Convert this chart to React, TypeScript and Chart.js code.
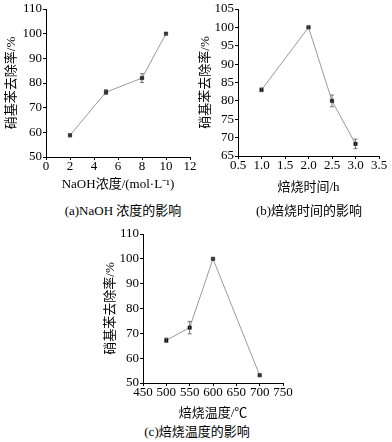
import React, { useEffect, useRef } from "react";
import { Chart, registerables } from "chart.js";

Chart.register(...registerables);

const FONT = "'Liberation Serif', 'Times New Roman', 'Noto Sans CJK SC', serif";

const yAxisTitle = "硝基苯去除率/%";

// (a) NaOH concentration
const naohX = [2, 5, 8, 10];
const naohY = [58.8, 76.3, 82.0, 100];
const naohErr = [0.6, 1.0, 1.8, 0.3];
const naohTitle = "NaOH浓度/(mol·L⁻¹)";
const naohCaption = "(a)NaOH 浓度的影响";

// (b) roasting time
const timeX = [1.0, 2.0, 2.5, 3.0];
const timeY = [83.0, 100, 80.0, 68.3];
const timeErr = [0.5, 0.3, 1.6, 1.3];
const timeTitle = "焙烧时间/h";
const timeCaption = "(b)焙烧时间的影响";

// (c) roasting temperature
const tempX = [500, 550, 600, 700];
const tempY = [67.2, 72.3, 100, 53.1];
const tempErr = [0.9, 2.5, 0.4, 0.5];
const tempTitle = "焙烧温度/℃";
const tempCaption = "(c)焙烧温度的影响";

const errorBarPlugin = {
  id: "errorBars",
  afterDatasetsDraw(chart: any) {
    const ctx = chart.ctx;
    const xs = chart.scales.x;
    const ys = chart.scales.y;
    chart.data.datasets.forEach((ds: any) => {
      const errs: number[] = ds.errors || [];
      ds.data.forEach((p: any, i: number) => {
        const e = errs[i];
        if (!e) return;
        const x = xs.getPixelForValue(p.x);
        const y1 = ys.getPixelForValue(p.y + e);
        const y2 = ys.getPixelForValue(p.y - e);
        ctx.save();
        ctx.strokeStyle = "#555";
        ctx.lineWidth = 0.8;
        ctx.beginPath();
        ctx.moveTo(x, y1);
        ctx.lineTo(x, y2);
        ctx.moveTo(x - 2, y1);
        ctx.lineTo(x + 2, y1);
        ctx.moveTo(x - 2, y2);
        ctx.lineTo(x + 2, y2);
        ctx.stroke();
        ctx.restore();
      });
    });
  },
};

type PanelProps = {
  left: number;
  top: number;
  width: number;
  height: number;
  padding: { left: number; top: number; right: number; bottom: number };
  yWidth: number;
  xHeight: number;
  yTitlePad: number;
  xTitlePad: number;
  xs: number[];
  ys: number[];
  errs: number[];
  xMin: number;
  xMax: number;
  xStep: number;
  xDecimals: number;
  yMin: number;
  yMax: number;
  yStep: number;
  xTitle: string;
};

function Panel(props: PanelProps) {
  const ref = useRef<HTMLCanvasElement | null>(null);
  useEffect(() => {
    if (!ref.current) return;
    const p = props;
    const points = p.xs.map((x, i) => ({ x, y: p.ys[i] }));
    const tickFont = { family: FONT, size: 13, lineHeight: 1 };
    const titleFont = { family: FONT, size: 13, lineHeight: 1.2 };
    const chart = new Chart(ref.current, {
      type: "line",
      data: {
        datasets: [
          {
            data: points,
            errors: p.errs,
            borderColor: "#999",
            borderWidth: 1,
            pointStyle: "rect",
            pointRadius: 2.4,
            pointBackgroundColor: "#111",
            pointBorderColor: "#111",
            pointBorderWidth: 0.5,
            tension: 0,
          } as any,
        ],
      },
      options: {
        animation: false,
        responsive: false,
        maintainAspectRatio: false,
        layout: { padding: p.padding },
        plugins: {
          legend: { display: false },
          tooltip: { enabled: false },
          title: { display: false },
        },
        scales: {
          x: {
            type: "linear",
            min: p.xMin,
            max: p.xMax,
            afterFit: (s: any) => {
              s.height = p.xHeight;
              s.paddingLeft = 0;
              s.paddingRight = 0;
            },
            ticks: {
              stepSize: p.xStep,
              color: "#000",
              font: tickFont,
              padding: 0,
              maxRotation: 0,
              autoSkip: false,
              callback: (v: any) => Number(v).toFixed(p.xDecimals),
            },
            grid: {
              drawOnChartArea: false,
              drawTicks: true,
              tickLength: 3,
              color: "#000",
              lineWidth: 1,
            },
            border: { display: true, color: "#000", width: 1 },
            title: {
              display: true,
              text: p.xTitle,
              color: "#000",
              font: titleFont,
              padding: { top: 0, bottom: p.xTitlePad },
            },
          },
          y: {
            type: "linear",
            min: p.yMin,
            max: p.yMax,
            afterFit: (s: any) => {
              s.width = p.yWidth;
              s.paddingTop = 0;
              s.paddingBottom = 0;
            },
            ticks: {
              stepSize: p.yStep,
              color: "#000",
              font: tickFont,
              padding: 1,
              autoSkip: false,
            },
            grid: {
              drawOnChartArea: false,
              drawTicks: true,
              tickLength: 3,
              color: "#000",
              lineWidth: 1,
            },
            border: { display: true, color: "#000", width: 1 },
            title: {
              display: true,
              text: yAxisTitle,
              color: "#000",
              font: titleFont,
              padding: { top: p.yTitlePad, bottom: 0 },
            },
          },
        },
      } as any,
      plugins: [errorBarPlugin],
    });
    return () => chart.destroy();
  }, []);
  return (
    <canvas
      ref={ref}
      width={props.width}
      height={props.height}
      style={{
        position: "absolute",
        left: props.left,
        top: props.top,
        width: props.width,
        height: props.height,
      }}
    />
  );
}

function Caption({ text, cx, cy }: { text: string; cx: number; cy: number }) {
  return (
    <div
      style={{
        position: "absolute",
        left: cx - 90,
        top: cy - 8,
        width: 180,
        height: 16,
        lineHeight: "16px",
        textAlign: "center",
        fontFamily: FONT,
        fontSize: 13,
        color: "#000",
        whiteSpace: "nowrap",
      }}
    >
      {text}
    </div>
  );
}

export default function App() {
  return (
    <div
      style={{
        position: "absolute",
        left: 0,
        top: 0,
        width: 392,
        height: 442,
        background: "#fff",
        overflow: "hidden",
      }}
    >
      <Panel
        left={0}
        top={0}
        width={200}
        height={195}
        padding={{ left: 0, top: 9, right: 10, bottom: 0 }}
        yWidth={46}
        xHeight={38}
        yTitlePad={4}
        xTitlePad={3}
        xs={naohX}
        ys={naohY}
        errs={naohErr}
        xMin={0}
        xMax={12}
        xStep={2}
        xDecimals={0}
        yMin={50}
        yMax={110}
        yStep={10}
        xTitle={naohTitle}
      />
      <Panel
        left={196}
        top={0}
        width={196}
        height={195}
        padding={{ left: 0, top: 9, right: 13, bottom: 0 }}
        yWidth={42}
        xHeight={39}
        yTitlePad={2}
        xTitlePad={0}
        xs={timeX}
        ys={timeY}
        errs={timeErr}
        xMin={0.5}
        xMax={3.5}
        xStep={0.5}
        xDecimals={1}
        yMin={65}
        yMax={105}
        yStep={5}
        xTitle={timeTitle}
      />
      <Panel
        left={96}
        top={221}
        width={200}
        height={200}
        padding={{ left: 0, top: 13, right: 13, bottom: 0 }}
        yWidth={47}
        xHeight={38}
        yTitlePad={7}
        xTitlePad={0}
        xs={tempX}
        ys={tempY}
        errs={tempErr}
        xMin={450}
        xMax={750}
        xStep={50}
        xDecimals={0}
        yMin={50}
        yMax={110}
        yStep={10}
        xTitle={tempTitle}
      />
      <Caption text={naohCaption} cx={123} cy={211} />
      <Caption text={timeCaption} cx={309} cy={211} />
      <Caption text={tempCaption} cx={197} cy={432} />
    </div>
  );
}
